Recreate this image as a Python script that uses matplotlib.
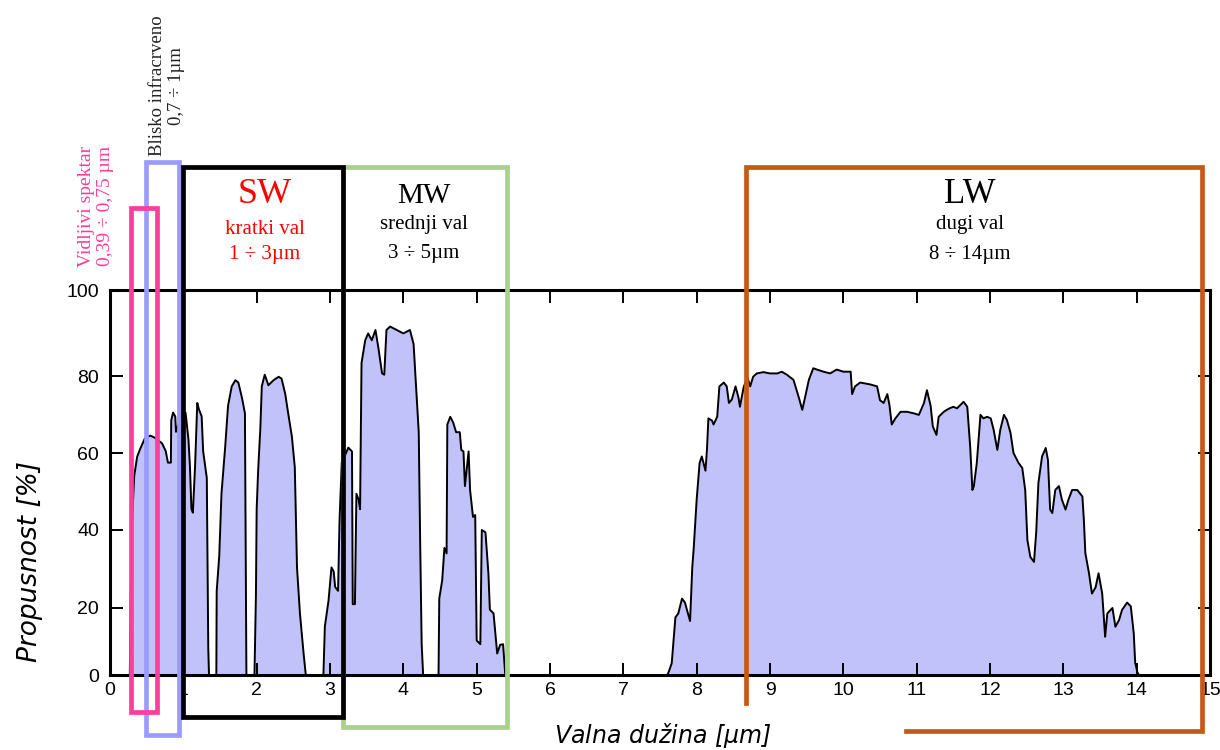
import matplotlib
matplotlib.use('Agg')
import matplotlib.pyplot as plt
from matplotlib.patches import Rectangle
from matplotlib.lines import Line2D
import numpy as np

# atmospheric transmission, wavelength [um] / transmission [%], one list pair per window
vis_wl = [0.0, 0.27, 0.29, 0.30, 0.33, 0.37, 0.41, 0.48, 0.55, 0.61, 0.71, 0.76, 0.79, 0.83, 0.835,
          0.86, 0.89, 0.90, 0.95, 0.98, 1.03, 1.07, 1.09, 1.11, 1.13, 1.16, 1.19, 1.21, 1.25, 1.27,
          1.32, 1.34, 1.35]
vis_t = [0, 0, 35, 42, 54, 59, 61, 64, 64.5, 64, 62.5, 60.5, 57.5, 57.5, 68.5,
         70.5, 69.5, 65.5, 68.5, 70.5, 70.5, 63.5, 56.5, 45.5, 44.5, 56.5, 73, 71.5, 69.5, 60.5,
         53.5, 8, 0]

sw1_wl = [1.45, 1.455, 1.49, 1.52, 1.57, 1.61, 1.66, 1.71, 1.75, 1.80, 1.84, 1.86]
sw1_t = [0, 24.4, 33.4, 49.4, 61.4, 72.3, 77.3, 78.9, 78.3, 74.3, 70.3, 0]

sw2_wl = [1.97, 1.99, 2.00, 2.02, 2.05, 2.07, 2.11, 2.16, 2.23, 2.30, 2.34, 2.39, 2.43, 2.48,
          2.52, 2.55, 2.59, 2.64, 2.67]
sw2_t = [0, 23.4, 45.4, 55.4, 66.4, 77.3, 80.3, 77.6, 78.9, 79.8, 79.3, 75.3, 70.3, 64.3,
         56.3, 30.4, 18.4, 6.4, 0]

mw1_wl = [2.91, 2.93, 2.98, 3.02, 3.05, 3.07, 3.11, 3.13, 3.16, 3.25, 3.30, 3.31, 3.34, 3.36,
          3.39, 3.41, 3.43, 3.48, 3.52, 3.57, 3.62, 3.66, 3.71, 3.74, 3.77, 3.82, 3.91, 4.00,
          4.09, 4.14, 4.21, 4.23, 4.25, 4.27]
mw1_t = [0, 14.5, 21.9, 30.4, 29.4, 25.4, 24.4, 42.4, 57.4, 61.4, 60.4, 21, 21, 49.4,
         47.9, 45.4, 83, 88.3, 89.9, 88.3, 90.7, 86.5, 80.6, 80.3, 90.7, 91.5, 90.7, 89.9,
         90.7, 87.4, 65.4, 36.4, 9.2, 0]

mw2_wl = [4.48, 4.49, 4.53, 4.56, 4.59, 4.60, 4.64, 4.68, 4.72, 4.77, 4.79, 4.82, 4.84, 4.89,
          4.91, 4.95, 4.98, 5.00, 5.05, 5.07, 5.12, 5.16, 5.18, 5.23, 5.28, 5.32, 5.36, 5.39]
mw2_t = [0, 22.4, 27.1, 35.4, 34, 67.4, 69.4, 67.9, 65.4, 65.4, 60.8, 60.4, 51.4, 60.4,
         50.4, 43.4, 43.9, 10.3, 9.2, 40, 39.4, 28.9, 19.5, 18.4, 6.4, 9, 9.2, 0]

lw_wl = [7.60, 7.62, 7.66, 7.71, 7.75, 7.80, 7.84, 7.91, 7.94, 7.96, 8.00, 8.04, 8.07, 8.12, 8.14,
         8.16, 8.21, 8.23, 8.28, 8.31, 8.37, 8.41, 8.44, 8.48, 8.53, 8.57, 8.59, 8.64, 8.69,
         8.73, 8.77, 8.82, 8.91, 9.00, 9.10, 9.16, 9.23, 9.32, 9.39, 9.44, 9.48, 9.53, 9.59,
         9.64, 9.73, 9.82, 9.91, 10.00, 10.10, 10.12, 10.16, 10.23, 10.37, 10.46, 10.50, 10.55,
         10.60, 10.63, 10.66, 10.71, 10.78, 10.87, 10.96, 11.03, 11.10, 11.14, 11.19, 11.22,
         11.27, 11.30, 11.37, 11.41, 11.46, 11.50, 11.55, 11.64, 11.69, 11.73, 11.76, 11.78,
         11.82, 11.87, 11.91, 11.96, 12.01, 12.05, 12.10, 12.14, 12.19, 12.23, 12.28, 12.32,
         12.39, 12.44, 12.48, 12.51, 12.55, 12.60, 12.63, 12.66, 12.71, 12.76, 12.79, 12.82,
         12.85, 12.89, 12.94, 12.98, 13.03, 13.07, 13.12, 13.19, 13.26, 13.28, 13.30, 13.35,
         13.39, 13.44, 13.48, 13.53, 13.57, 13.60, 13.67, 13.71, 13.76, 13.80, 13.87, 13.92,
         13.96, 13.98, 14.01, 14.03, 15.0]
lw_t = [0, 1, 3.5, 17.2, 18.4, 22.4, 21.4, 16.1, 30.4, 35.4, 47.9, 57.4, 59.1, 55.4, 60.8,
        69, 68.4, 67.4, 69.4, 77.3, 78.3, 77.3, 73, 73.9, 77.3, 74.4, 72, 77, 79.8,
        77.3, 79.8, 80.6, 80.9, 80.6, 80.6, 81, 80.3, 79, 74.6, 71.2, 74.6, 79, 81.8,
        81.5, 81, 80.6, 81.5, 81, 81, 75.3, 77.3, 78.3, 77.8, 77.3, 73.7, 73,
        75.3, 72.3, 67.4, 69, 70.7, 70.7, 70.3, 69.9, 73, 76.3, 72.3, 66.9,
        64.7, 69.4, 70.7, 71.2, 71.7, 72, 71.6, 73.3, 72, 61.6, 50.4, 51.4,
        57.4, 69.9, 69, 69.4, 69, 66, 60.8, 66, 69.9, 68.6, 65.2, 60,
        57.4, 56.1, 50.4, 37.4, 33.1, 31.8, 39.4, 52.2, 59.1, 61.3, 58.2, 45.3,
        44.4, 50.4, 51.4, 47.9, 45.3, 47.9, 50.4, 50.4, 48.7, 42.6, 34.1, 28.9,
        23.7, 25.3, 28.9, 23.7, 11.4, 18.4, 20, 14.4, 16.4, 19.4, 21.4, 20.4,
        12.5, 3.6, 0.8, 0, 0]

y_ticks = [0, 20, 40, 60, 80, 100]
x_ticks = list(range(0, 16))

wl = np.concatenate([vis_wl, sw1_wl, sw2_wl, mw1_wl, mw2_wl, lw_wl])
trans = np.concatenate([vis_t, sw1_t, sw2_t, mw1_t, mw2_t, lw_t])

fig = plt.figure(figsize=(12.2, 7.5), dpi=100)
ax = fig.add_axes([110 / 1220, 75 / 750, 1100 / 1220, 385 / 750])

# the original axis has uneven gaps between its y ticks, copy that
tick_px = [0, 67, 145, 222, 299, 385]
def fwd(v):
    return np.interp(v, y_ticks, tick_px)
def inv(p):
    return np.interp(p, tick_px, y_ticks)
ax.set_yscale('function', functions=(fwd, inv))

ax.fill_between(wl, 0, trans, color='#c2c2fa', lw=0, zorder=1)
ax.plot(wl, trans, color='black', lw=1.4, zorder=2)

ax.set_xlim(0, 15)
ax.set_ylim(0, 100)
ax.set_xticks(x_ticks)
ax.set_xticklabels([str(t) for t in x_ticks])
ax.set_yticks(y_ticks)
ax.minorticks_off()
ax.tick_params(direction='in', top=True, right=True, length=9, width=1.4,
               labelsize=14, pad=5)
ax.tick_params(axis='y', pad=8)
for lab in ax.get_xticklabels() + ax.get_yticklabels():
    lab.set_family(['Liberation Sans Narrow', 'Liberation Sans'])
for s in ax.spines.values():
    s.set_linewidth(2.2)

# boxes marking the spectral bands (x in um, y in axes fraction)
tr = ax.get_xaxis_transform()
def box(x0, x1, y0, y1, col, z):
    ax.add_patch(Rectangle((x0, y0), x1 - x0, y1 - y0, transform=tr, fill=False,
                           ec=col, lw=3.4, clip_on=False, zorder=z, joinstyle='miter'))

box(0.49, 0.935, -0.156, 1.332, '#9b9bff', 5)
box(0.28, 0.64, -0.096, 1.214, '#ff3d9a', 6)
box(3.18, 5.42, -0.135, 1.32, '#a9d18e', 5)
box(0.996, 3.18, -0.109, 1.32, 'black', 6)
ax.add_line(Line2D([10.85, 14.89, 14.89, 8.67, 8.67], [-0.145, -0.145, 1.32, 1.32, -0.073],
                   transform=tr, color='#c55a11', lw=3.4, clip_on=False, zorder=6,
                   solid_joinstyle='miter'))

serif = 'Liberation Serif'
ax.text(2.11, 1.247, 'SW', transform=tr, color='red', fontsize=26, family=serif,
        ha='center', va='center')
ax.text(2.11, 1.156, 'kratki val', transform=tr, color='red', fontsize=15, family=serif,
        ha='center', va='center')
ax.text(2.11, 1.091, '1 ÷ 3µm', transform=tr, color='red', fontsize=15, family=serif,
        ha='center', va='center')

ax.text(4.28, 1.243, 'MW', transform=tr, color='black', fontsize=21, family=serif,
        ha='center', va='center')
ax.text(4.28, 1.169, 'srednji val', transform=tr, color='black', fontsize=15, family=serif,
        ha='center', va='center')
ax.text(4.28, 1.096, '3 ÷ 5µm', transform=tr, color='black', fontsize=15, family=serif,
        ha='center', va='center')

ax.text(11.73, 1.247, 'LW', transform=tr, color='black', fontsize=25, family=serif,
        ha='center', va='center')
ax.text(11.73, 1.169, 'dugi val', transform=tr, color='black', fontsize=15, family=serif,
        ha='center', va='center')
ax.text(11.73, 1.091, '8 ÷ 14µm', transform=tr, color='black', fontsize=15, family=serif,
        ha='center', va='center')

ax.text(-0.19, 1.218, 'Vidljivi spektar\n0,39 ÷ 0,75 µm', transform=tr, color='#ff3d9a',
        fontsize=14, family=serif, rotation=90, ha='center', va='center',
        multialignment='center', linespacing=1.15)
ax.text(0.78, 1.53, 'Blisko infracrveno\n0,7 ÷ 1µm', transform=tr, color='#222222',
        fontsize=13.5, family=serif, rotation=90, ha='center', va='center',
        multialignment='center', linespacing=1.15)

ax.text(7.54, -0.156, 'Valna dužina [$\\mu$m]', transform=tr, fontsize=17,
        style='italic', family='DejaVu Sans', ha='center', va='center')
fig.text(30 / 1220, 1 - 562 / 750, 'Propusnost [%]', rotation=90, fontsize=19,
         style='italic', family='DejaVu Sans', ha='center', va='center')

fig.savefig('out.png', dpi=100)
